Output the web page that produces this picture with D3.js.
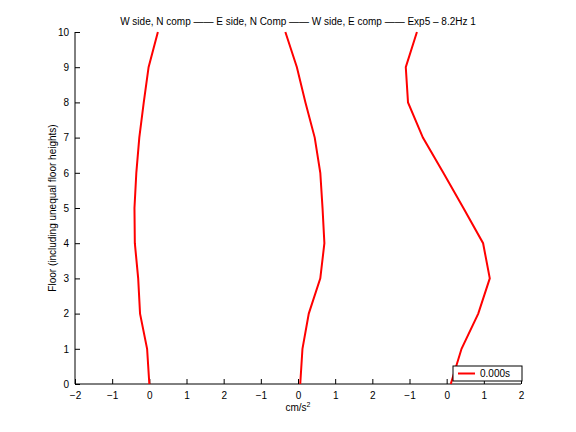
<!DOCTYPE html>
<html>
<head>
<meta charset="utf-8">
<script src="https://cdn.jsdelivr.net/npm/d3@7"></script>
<style>
  body { margin: 0; background: #fff; }
  text { font-family: "Liberation Sans", Arial, sans-serif; font-size: 10px; fill: #000; }
</style>
</head>
<body>
<script>
// Floors (y values)
const floors = [0, 1, 2, 3, 4, 5, 6, 7, 8, 9, 10]

// Acceleration profiles (cm/s^2), one per panel
const wSideN = [0.0, -0.06, -0.25, -0.3, -0.39, -0.4, -0.35, -0.27, -0.15, -0.02, 0.23]
const eSideN = [0.06, 0.12, 0.29, 0.6, 0.71, 0.66, 0.6, 0.45, 0.2, -0.03, -0.34]
const wSideE = [0.11, 0.4, 0.85, 1.16, 0.98, 0.45, -0.09, -0.64, -1.04, -1.1, -0.8]

// Panels are laid side by side on one axis, shifted by 4 units each
const panelOffsets = [0, 4, 8]
const series = [wSideN, eSideN, wSideE]

// Tick labels along x (positions -2..10, labels repeat per panel)
const xTickValues = [-2, -1, 0, 1, 2, 3, 4, 5, 6, 7, 8, 9, 10]
const xTickLabels = ['\u22122', '\u22121', '0', '1', '2', '\u22121', '0', '1', '2', '\u22121', '0', '1', '2']
const yTickValues = [0, 1, 2, 3, 4, 5, 6, 7, 8, 9, 10]

const title = 'W side, N comp \u2014\u2014 E side, N Comp \u2014\u2014 W side, E comp \u2014\u2014 Exp5 \u2013 8.2Hz 1'
const legendLabel = '0.000s'

const width = 576
const height = 432
const plotLeft = 75
const plotRight = 521
const plotTop = 32
const plotBottom = 384

const svg = d3.select('body').append('svg')
  .attr('width', width)
  .attr('height', height)

const x = d3.scaleLinear().domain([-2, 10]).range([plotLeft, plotRight])
const y = d3.scaleLinear().domain([0, 10]).range([plotBottom, plotTop])

// Axes (ticks point inward like MATLAB)
const xAxis = d3.axisBottom(x)
  .tickValues(xTickValues)
  .tickSize(-5)
  .tickPadding(8)
  .tickFormat((d, i) => xTickLabels[i])
const yAxis = d3.axisLeft(y)
  .tickValues(yTickValues)
  .tickSize(-5)
  .tickPadding(6)
  .tickFormat(d3.format('d'))

const gx = svg.append('g')
  .attr('transform', `translate(0, ${plotBottom})`)
  .call(xAxis)
const gy = svg.append('g')
  .attr('transform', `translate(${plotLeft}, 0)`)
  .call(yAxis)

gx.select('.domain').remove()
gy.select('.domain').remove()
svg.selectAll('.tick line').attr('stroke', '#000')
svg.selectAll('.tick text').attr('font-family', null).attr('font-size', null)
gx.attr('font-family', null).attr('font-size', null)
gy.attr('font-family', null).attr('font-size', null)

svg.append('line')
  .attr('x1', plotLeft).attr('x2', plotRight)
  .attr('y1', plotBottom).attr('y2', plotBottom)
  .attr('stroke', '#000')
svg.append('line')
  .attr('x1', plotLeft).attr('x2', plotLeft)
  .attr('y1', plotTop).attr('y2', plotBottom)
  .attr('stroke', '#000')

// Curves
const line = d3.line()
  .x(d => x(d.v))
  .y(d => y(d.f))

series.forEach((vals, i) => {
  const pts = vals.map((v, j) => ({ v: v + panelOffsets[i], f: floors[j] }))
  svg.append('path')
    .datum(pts)
    .attr('fill', 'none')
    .attr('stroke', '#ff0000')
    .attr('stroke-width', 2)
    .attr('d', line)
})

// Title and labels
svg.append('text')
  .attr('x', (plotLeft + plotRight) / 2)
  .attr('y', 25)
  .attr('text-anchor', 'middle')
  .text(title)

const xl = svg.append('text')
  .attr('x', (plotLeft + plotRight) / 2)
  .attr('y', 411)
  .attr('text-anchor', 'middle')
xl.append('tspan').text('cm/s')
xl.append('tspan').attr('dy', -4).attr('font-size', 7).text('2')

svg.append('text')
  .attr('transform', `translate(56, ${(plotTop + plotBottom) / 2}) rotate(-90)`)
  .attr('text-anchor', 'middle')
  .text('Floor (including unequal floor heights)')

// Legend
const legend = svg.append('g')
legend.append('rect')
  .attr('x', 453).attr('y', 366)
  .attr('width', 69).attr('height', 15)
  .attr('fill', '#fff')
  .attr('stroke', '#000')
legend.append('line')
  .attr('x1', 458).attr('x2', 475)
  .attr('y1', 373.5).attr('y2', 373.5)
  .attr('stroke', '#ff0000')
  .attr('stroke-width', 2)
legend.append('text')
  .attr('x', 480).attr('y', 377)
  .text(legendLabel)
</script>
</body>
</html>
